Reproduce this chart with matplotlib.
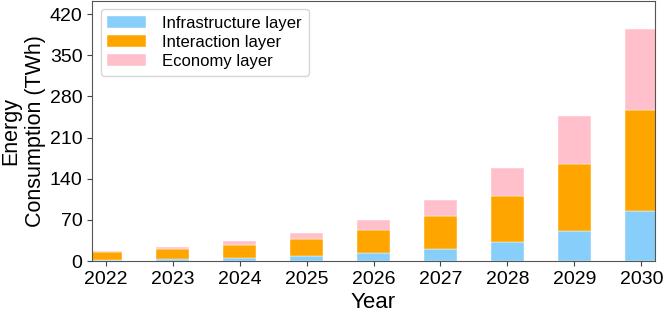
import numpy as np
import matplotlib
matplotlib.use("Agg")
import matplotlib.pyplot as plt

plt.rcParams['font.family'] = ['Liberation Sans', 'DejaVu Sans']

# data (TWh)
years = ['2022', '2023', '2024', '2025', '2026', '2027', '2028', '2029', '2030']
infrastructure = [2.2, 3.8, 6.0, 9.0, 13.0, 20.5, 32.5, 51.0, 85.0]
interaction = [12.8, 16.2, 21.7, 28.7, 40.0, 55.5, 78.0, 115.0, 172.0]
economy = [2.5, 4.0, 6.3, 10.3, 17.0, 28.0, 47.5, 81.0, 138.0]

x = np.arange(len(years))
infra = np.array(infrastructure)
inter = np.array(interaction)
econ = np.array(economy)

fig = plt.figure(figsize=(6.64, 3.15), dpi=100)
ax = fig.add_axes([0.139, 0.171, 0.847, 0.827])

w = 0.5
ax.bar(x, infra, w, color='lightskyblue', edgecolor='white', linewidth=0.3, label='Infrastructure layer')
ax.bar(x, inter, w, bottom=infra, color='orange', edgecolor='white', linewidth=0.3, label='Interaction layer')
ax.bar(x, econ, w, bottom=infra + inter, color='pink', edgecolor='white', linewidth=0.3, label='Economy layer')

ax.set_xticks(x)
ax.set_xticklabels(years)
ax.set_yticks(np.arange(0, 421, 70))
ax.set_xlim(-0.2, 8.2)
ax.set_ylim(0, 443)
ax.tick_params(labelsize=14, color='#444444')
ax.set_xlabel('Year', fontsize=16, labelpad=3)
ax.set_ylabel('Energy\nConsumption (TWh)', fontsize=15.5, labelpad=3)
for s in ax.spines.values():
    s.set_color('#555555')

ax.legend(loc='upper left', fontsize=12, frameon=True, labelspacing=0.25,
          handlelength=2.3, handletextpad=1.0)

plt.savefig('out.png', dpi=100)
